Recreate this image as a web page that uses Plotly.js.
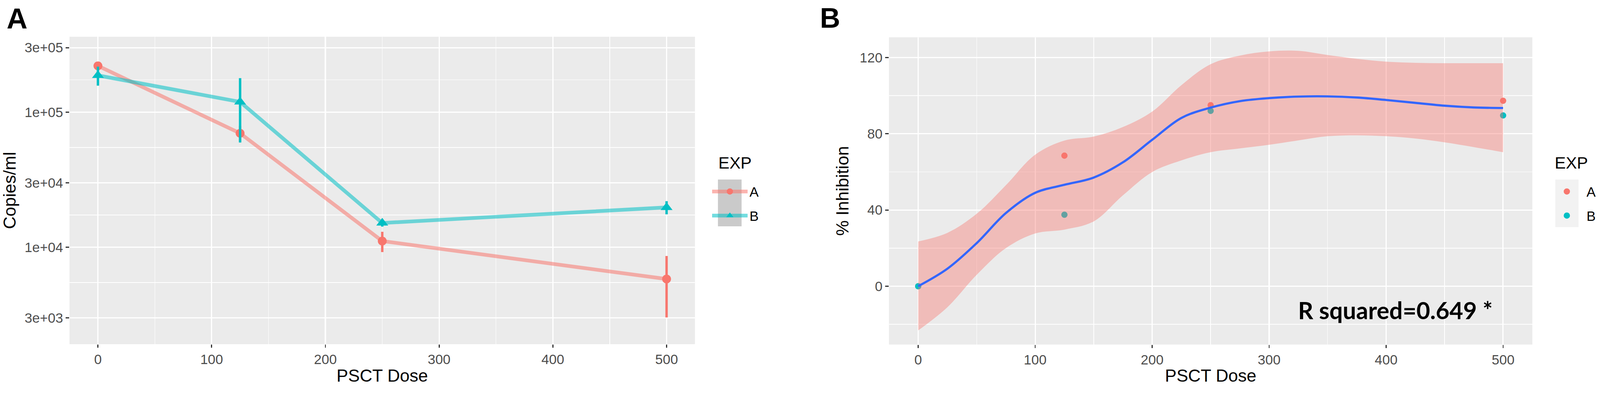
<!DOCTYPE html>
<html>
<head>
<meta charset="utf-8">
<script src="https://cdn.plot.ly/plotly-3.0.1.min.js"></script>
<style>
  html, body { margin: 0; padding: 0; background: #fff; overflow: hidden; }
</style>
</head>
<body>
<div id="chart"></div>
<script>
// Panel A: copies/ml by PSCT dose, mean and SE per experiment
var doses = [0, 125, 250, 500];
var copiesA = [220000, 69700, 11100, 5810];
var copiesSeA = [9000, 9300, 1900, 2790];
var copiesB = [187000, 119000, 15100, 19700];
var copiesSeB = [30000, 59500, 900, 2200];

// Panel B: % inhibition per experiment
var inhibA = [0, 68.5, 95.0, 97.3];
var inhibB = [0, 37.5, 92.0, 89.6];

// Panel B: smoothed fit and its band
var fitDose  = [0, 25, 50, 75, 100, 125, 150, 175, 200, 225, 250, 275, 300, 325, 350, 375, 400, 425, 450, 475, 500];
var fitMid   = [0, 9.2, 22.6, 38.4, 49, 53.2, 57, 65, 76.8, 88.3, 93.7, 97.1, 98.7, 99.5, 99.6, 99, 97.7, 96.2, 94.7, 93.8, 93.5];
var fitUpper = [23.5, 28, 38, 53, 69, 76.4, 78.5, 83.5, 91.6, 105.5, 116.5, 121, 123.2, 123.5, 121.3, 119.3, 117.8, 117.2, 117, 117, 117];
var fitLower = [-23.2, -11, 6, 20, 27.7, 29.7, 34, 47.7, 59.9, 66, 70.3, 72.3, 74.2, 76.5, 78.7, 79.2, 78.7, 77.5, 75.5, 73, 70.3];

// ticks
var doseTicks = [0, 100, 200, 300, 400, 500];
var doseMinor = [50, 150, 250, 350, 450];
var copiesTicks = [3000, 10000, 30000, 100000, 300000];
var copiesTickText = ['3e+03', '1e+04', '3e+04', '1e+05', '3e+05'];
var inhibTicks = [0, 40, 80, 120];
var inhibMinor = [-20, 20, 60, 100];

var red = '#F8766D';
var cyan = '#00BFC4';
var font = 'Liberation Sans, Arial, sans-serif';

// the figure is laid out for 4328 x 1043; scale pixel sizes to the real viewport
var W = 4328, H = 1043;
var k = Math.min(window.innerWidth / W, window.innerHeight / H);
function px(v) { return v * k; }

// minor grid on the log axis sits halfway between majors (in log space)
var copiesMinor = [];
for (var i = 0; i < copiesTicks.length - 1; i++) {
  copiesMinor.push(Math.sqrt(copiesTicks[i] * copiesTicks[i + 1]));
}

var traces = [
  {
    x: doses, y: copiesA, name: 'A', legend: 'legend', legendgroup: 'a1',
    type: 'scatter', mode: 'lines+markers', xaxis: 'x', yaxis: 'y',
    line: {color: 'rgba(248,118,109,0.55)', width: px(10)},
    marker: {color: red, size: px(24), symbol: 'circle'},
    error_y: {type: 'data', array: copiesSeA, color: red, thickness: px(6.5), width: 0}
  },
  {
    x: doses, y: copiesB, name: 'B', legend: 'legend', legendgroup: 'b1',
    type: 'scatter', mode: 'lines+markers', xaxis: 'x', yaxis: 'y',
    line: {color: 'rgba(0,191,196,0.55)', width: px(10)},
    marker: {color: cyan, size: px(28), symbol: 'triangle-up'},
    error_y: {type: 'data', array: copiesSeB, color: cyan, thickness: px(6.5), width: 0}
  },
  {
    x: doses, y: inhibA, name: 'A', legend: 'legend2', legendgroup: 'a2',
    type: 'scatter', mode: 'markers', xaxis: 'x2', yaxis: 'y2',
    marker: {color: red, size: px(17)}
  },
  {
    x: doses, y: inhibB, name: 'B', legend: 'legend2', legendgroup: 'b2',
    type: 'scatter', mode: 'markers', xaxis: 'x2', yaxis: 'y2',
    marker: {color: cyan, size: px(17)}
  },
  {
    x: fitDose, y: fitLower, type: 'scatter', mode: 'lines', xaxis: 'x2', yaxis: 'y2',
    line: {width: 0, shape: 'spline'}, showlegend: false, hoverinfo: 'skip'
  },
  {
    x: fitDose, y: fitUpper, type: 'scatter', mode: 'lines', xaxis: 'x2', yaxis: 'y2',
    line: {width: 0, shape: 'spline'}, fill: 'tonexty', fillcolor: 'rgba(248,118,109,0.4)',
    showlegend: false, hoverinfo: 'skip'
  },
  {
    x: fitDose, y: fitMid, type: 'scatter', mode: 'lines', xaxis: 'x2', yaxis: 'y2',
    line: {color: '#3366FF', width: px(6), shape: 'spline'}, showlegend: false
  }
];

function axis(extra) {
  var base = {
    ticks: 'outside', ticklen: px(9), tickwidth: px(3), tickcolor: '#333333',
    tickfont: {family: font, size: px(37), color: '#4D4D4D'},
    showgrid: true, gridcolor: '#FFFFFF', gridwidth: px(3.2),
    zeroline: false, showline: false, automargin: false,
    tickmode: 'array'
  };
  for (var key in extra) base[key] = extra[key];
  return base;
}

function minor(vals) {
  return {tickmode: 'array', tickvals: vals, showgrid: true, gridcolor: '#FFFFFF', gridwidth: px(1.6), ticks: ''};
}

var titleFont = {family: font, size: px(47), color: '#000000'};
var legendFont = {family: font, size: px(37), color: '#000000'};

var layout = {
  width: W * k, height: H * k,
  margin: {l: 0, r: 0, t: 0, b: 0, autoexpand: false},
  paper_bgcolor: '#FFFFFF', plot_bgcolor: '#EBEBEB',
  font: {family: font},
  xaxis: axis({
    domain: [188 / W, 1880 / W], anchor: 'y', range: [-25, 525],
    tickvals: doseTicks, minor: minor(doseMinor),
    title: {text: 'PSCT Dose', font: titleFont, standoff: px(12)}
  }),
  yaxis: axis({
    domain: [1 - 932 / H, 1 - 99.5 / H], anchor: 'x', type: 'log',
    range: [3.282, 5.558], tickvals: copiesTicks, ticktext: copiesTickText,
    minor: minor(copiesMinor),
    title: {text: 'Copies/ml', font: titleFont, standoff: px(14)}
  }),
  xaxis2: axis({
    domain: [2404.6 / W, 4145 / W], anchor: 'y2', range: [-25, 525],
    tickvals: doseTicks, minor: minor(doseMinor),
    title: {text: 'PSCT Dose', font: titleFont, standoff: px(12)}
  }),
  yaxis2: axis({
    domain: [1 - 933 / H, 1 - 101 / H], anchor: 'x2',
    range: [-30.6, 130.6], tickvals: inhibTicks, minor: minor(inhibMinor),
    title: {text: '% Inhibition', font: titleFont, standoff: px(14)}
  }),
  legend: {
    x: 1921 / W, xanchor: 'left', y: 1 - 551.5 / H, yanchor: 'middle',
    bgcolor: 'rgba(0,0,0,0)', font: legendFont,
    itemwidth: px(96), tracegroupgap: px(14), traceorder: 'grouped'
  },
  legend2: {
    x: 4185 / W, xanchor: 'left', y: 1 - 551.5 / H, yanchor: 'middle',
    bgcolor: 'rgba(0,0,0,0)', font: legendFont,
    itemwidth: px(96), tracegroupgap: px(14), traceorder: 'grouped'
  },
  shapes: [
    {type: 'rect', xref: 'paper', yref: 'paper', layer: 'below',
     x0: 1942 / W, x1: 2006 / W, y0: 1 - 613 / H, y1: 1 - 486 / H,
     fillcolor: '#CACACA', line: {width: 0}},
    {type: 'rect', xref: 'paper', yref: 'paper', layer: 'below',
     x0: 4207 / W, x1: 4270 / W, y0: 1 - 615 / H, y1: 1 - 486 / H,
     fillcolor: '#F2F2F2', line: {width: 0}}
  ],
  annotations: [
    {text: 'A', xref: 'paper', yref: 'paper', x: 16 / W, y: 1 - 4 / H,
     xanchor: 'left', yanchor: 'top', showarrow: false,
     font: {family: font, size: px(78), color: '#000000', weight: 'bold'}},
    {text: 'B', xref: 'paper', yref: 'paper', x: 2216 / W, y: 1 - 4 / H,
     xanchor: 'left', yanchor: 'top', showarrow: false,
     font: {family: font, size: px(76), color: '#000000', weight: 'bold'}},
    {text: 'EXP', xref: 'paper', yref: 'paper', x: 1941 / W, y: 1 - 441 / H,
     xanchor: 'left', yanchor: 'middle', showarrow: false,
     font: {family: font, size: px(45), color: '#000000'}},
    {text: 'EXP', xref: 'paper', yref: 'paper', x: 4203 / W, y: 1 - 441 / H,
     xanchor: 'left', yanchor: 'middle', showarrow: false,
     font: {family: font, size: px(45), color: '#000000'}},
    {text: 'R squared=0.649 *', xref: 'x2', yref: 'y2', x: 408, y: -12.4,
     xanchor: 'center', yanchor: 'middle', showarrow: false,
     font: {family: 'Lato, Open Sans, sans-serif', size: px(64), color: '#000000', weight: 'bold'}}
  ]
};

var el = document.getElementById('chart');
el.style.width = (W * k) + 'px';
el.style.height = (H * k) + 'px';
Plotly.newPlot(el, traces, layout, {staticPlot: true, displayModeBar: false});
</script>
</body>
</html>
